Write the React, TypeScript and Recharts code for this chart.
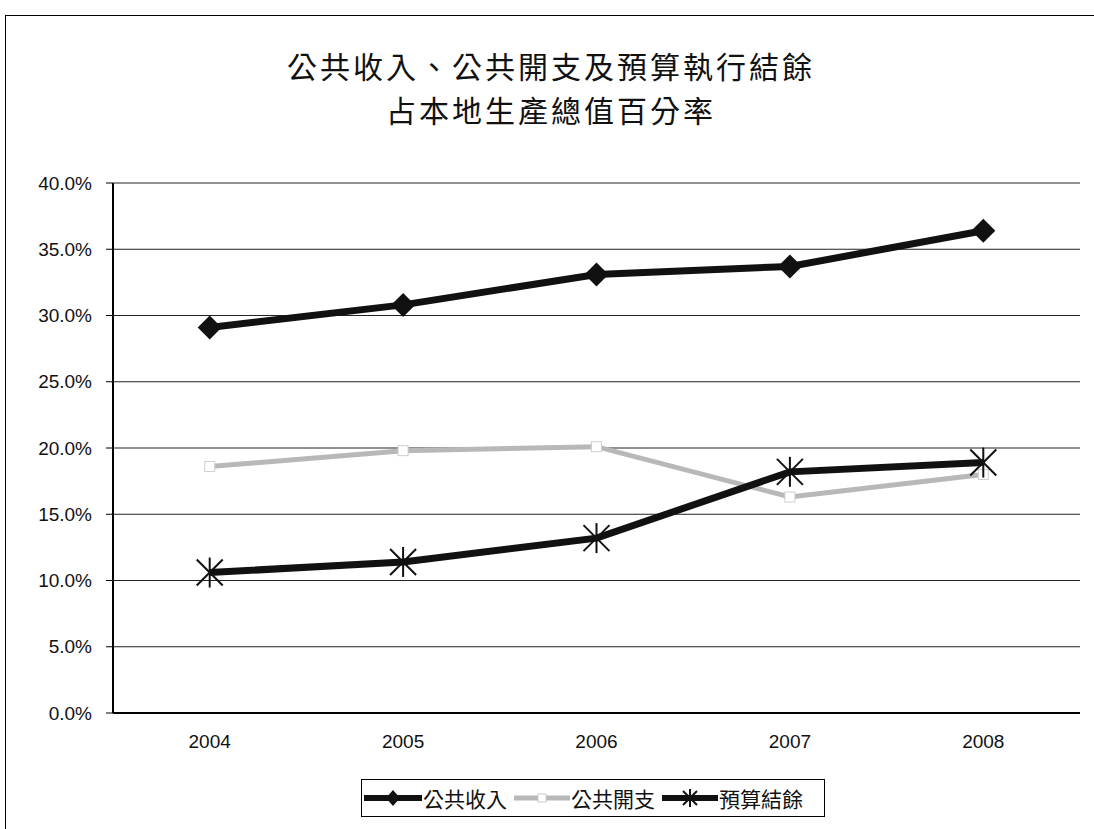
import { LineChart, Line, XAxis, YAxis, CartesianGrid } from "recharts";

const years = ["2004", "2005", "2006", "2007", "2008"];
const revenue = [29.1, 30.8, 33.1, 33.7, 36.4];
const expense = [18.6, 19.8, 20.1, 16.3, 18.0];
const balance = [10.6, 11.4, 13.2, 18.2, 18.9];
const yTicks = [0, 5, 10, 15, 20, 25, 30, 35, 40];
const boundaryTicks = [0, 1, 2, 3, 4, 5];
const titleLines = ["公共收入、公共開支及預算執行結餘", "占本地生產總值百分率"];

const data = years.map((year, i) => ({
  year,
  revenue: revenue[i],
  expense: expense[i],
  balance: balance[i],
}));

const FONT = "'Liberation Sans', Arial, sans-serif";
const CJK = "'Noto Sans CJK TC', 'Noto Sans CJK SC', sans-serif";

const Diamond = (props: any) => {
  const { cx, cy } = props;
  if (cx == null || cy == null) return null;
  const r = 12;
  return (
    <polygon
      points={`${cx},${cy - r} ${cx + r},${cy} ${cx},${cy + r} ${cx - r},${cy}`}
      fill="#111"
    />
  );
};

const Star = (props: any) => {
  const { cx, cy } = props;
  if (cx == null || cy == null) return null;
  const r = 13;
  return (
    <g stroke="#111" strokeWidth={2}>
      <line x1={cx - r} y1={cy - r} x2={cx + r} y2={cy + r} />
      <line x1={cx - r} y1={cy + r} x2={cx + r} y2={cy - r} />
      <line x1={cx} y1={cy - r - 2} x2={cx} y2={cy + r + 2} />
    </g>
  );
};

const Hollow = (props: any) => {
  const { cx, cy } = props;
  if (cx == null || cy == null) return null;
  return (
    <rect
      x={cx - 5}
      y={cy - 5}
      width={10}
      height={10}
      fill="#fff"
      stroke="#d0d0d0"
      strokeWidth={1}
    />
  );
};

const item = { whiteSpace: "nowrap" as const, flexShrink: 0 };

const LegendBox = () => (
  <div
    style={{
      position: "absolute",
      left: 361,
      top: 779,
      width: 462,
      height: 36,
      border: "1px solid #000",
      display: "flex",
      alignItems: "center",
      fontFamily: CJK,
      fontSize: 21,
      color: "#111",
      background: "#fff",
      overflow: "hidden",
    }}
  >
    <svg width={60} height={20} style={{ ...item, marginLeft: 1 }}>
      <line x1={1} y1={10} x2={59} y2={10} stroke="#111" strokeWidth={6} />
      <polygon points="30,2 37,10 30,18 23,10" fill="#111" />
    </svg>
    <span style={{ ...item, marginRight: 6 }}>公共收入</span>
    <svg width={58} height={20} style={item}>
      <line x1={1} y1={10} x2={57} y2={10} stroke="#b8b8b8" strokeWidth={5} />
      <rect x={25} y={6} width={8} height={8} fill="#fff" stroke="#ccc" />
    </svg>
    <span style={{ ...item, marginRight: 6 }}>公共開支</span>
    <svg width={58} height={20} style={item}>
      <line x1={1} y1={10} x2={57} y2={10} stroke="#111" strokeWidth={6} />
      <g stroke="#111" strokeWidth={2}>
        <line x1={22} y1={3} x2={36} y2={17} />
        <line x1={22} y1={17} x2={36} y2={3} />
        <line x1={29} y1={1} x2={29} y2={19} />
      </g>
    </svg>
    <span style={item}>預算結餘</span>
  </div>
);

export default function App() {
  return (
    <div
      style={{
        position: "absolute",
        left: 0,
        top: 0,
        width: 1094,
        height: 829,
        background: "#fff",
        overflow: "hidden",
      }}
    >
      <div
        style={{
          position: "absolute",
          left: 5,
          top: 15,
          width: 1095,
          height: 820,
          border: "1px solid #000",
        }}
      />
      <div
        style={{
          position: "absolute",
          left: 4,
          top: 43,
          width: 1094,
          textAlign: "center",
          fontFamily: CJK,
          fontSize: 30,
          lineHeight: "44px",
          letterSpacing: 3,
          color: "#111",
        }}
      >
        {titleLines.map((t) => (
          <div key={t}>{t}</div>
        ))}
      </div>
      <div style={{ position: "absolute", left: 0, top: 0 }}>
        <LineChart
          width={1094}
          height={829}
          data={data}
          margin={{ top: 183, right: 14, bottom: 0, left: 0 }}
        >
          <CartesianGrid
            vertical={false}
            stroke="#222"
            strokeWidth={1}
            yAxisId="left"
            xAxisId="b_cat"
          />
          <XAxis
            xAxisId="a_edges"
            type="number"
            domain={[0, 5]}
            ticks={boundaryTicks}
            tick={false}
            axisLine={{ stroke: "#000", strokeWidth: 2 }}
            tickLine={{ stroke: "#000", strokeWidth: 1 }}
            tickSize={6}
            height={1}
          />
          <XAxis
            dataKey="year"
            xAxisId="b_cat"
            axisLine={false}
            tickLine={false}
            padding={{ left: 96.7, right: 96.7 }}
            height={115}
            tick={{ fill: "#111", fontSize: 19, fontFamily: FONT }}
            tickSize={0}
            tickMargin={21}
          />
          <YAxis
            yAxisId="left"
            width={113}
            domain={[0, 40]}
            ticks={yTicks}
            interval={0}
            tickFormatter={(v: number) => `${v.toFixed(1)}%`}
            axisLine={{ stroke: "#000", strokeWidth: 2 }}
            tickLine={{ stroke: "#000" }}
            tickSize={7}
            tickMargin={14}
            tick={{ fill: "#111", fontSize: 19, fontFamily: FONT }}
          />
          <YAxis
            yAxisId="right"
            orientation="right"
            width={0}
            domain={[0, 40]}
            tick={false}
            tickLine={false}
            axisLine={{ stroke: "#000", strokeWidth: 2 }}
          />
          <Line
            xAxisId="b_cat"
            yAxisId="left"
            dataKey="expense"
            stroke="#b8b8b8"
            strokeWidth={5}
            dot={<Hollow />}
            isAnimationActive={false}
          />
          <Line
            xAxisId="b_cat"
            yAxisId="left"
            dataKey="revenue"
            stroke="#111"
            strokeWidth={7}
            dot={<Diamond />}
            isAnimationActive={false}
          />
          <Line
            xAxisId="b_cat"
            yAxisId="left"
            dataKey="balance"
            stroke="#111"
            strokeWidth={7}
            dot={<Star />}
            isAnimationActive={false}
          />
        </LineChart>
      </div>
      <LegendBox />
    </div>
  );
}
